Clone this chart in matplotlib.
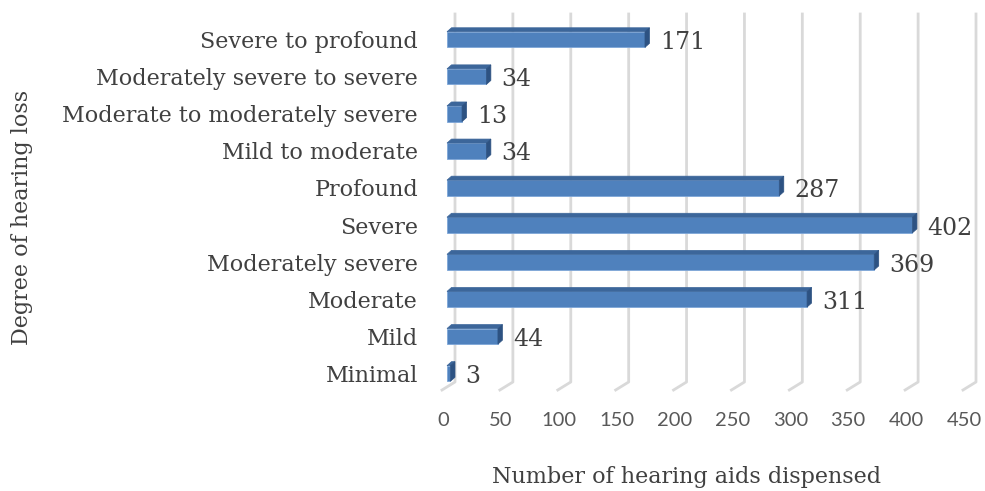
import matplotlib
matplotlib.use("Agg")
import matplotlib.pyplot as plt
from matplotlib.patches import Polygon
from matplotlib.lines import Line2D
from matplotlib.transforms import IdentityTransform

categories = ["Minimal", "Mild", "Moderate", "Moderately severe", "Severe",
              "Profound", "Mild to moderate", "Moderate to moderately severe",
              "Moderately severe to severe", "Severe to profound"]
values = [3, 44, 311, 369, 402, 287, 34, 13, 34, 171]
xticks = [0, 50, 100, 150, 200, 250, 300, 350, 400, 450]
xlabel = "Number of hearing aids dispensed"
ylabel = "Degree of hearing loss"

FRONT = "#4f81bd"
TOP = "#3c669a"
SIDE = "#2d5282"
EDGE = "#7ea6d8"
GRID = "#d9d9d9"
TXT = "#404040"
TICK = "#595959"
SERIF = "DejaVu Serif"
SANS = "Lato"

W, H = 985, 491
fig = plt.figure(figsize=(W / 100, H / 100), dpi=100)
left_px, right_px = 447, 968
top_px, bot_px = 21, 392
ax = fig.add_axes([left_px / W, (H - bot_px) / H, (right_px - left_px) / W, (bot_px - top_px) / H])
ax.set_xlim(0, 450)
ax.set_ylim(-0.5, len(categories) - 0.5)
ax.axis("off")

fig.canvas.draw()
tr = ax.transData


def px(x, y):
    a, b = tr.transform((x, y))
    return a, b  # display coords (origin bottom-left)


# gridlines (3D wall + floor)
y_top_disp = H - 14
y_back_bot = H - 382
y_front_bot = H - 390
for t in xticks:
    xb = px(t, 0)[0] + 8
    xf = px(t, 0)[0] - 5
    fig.add_artist(Line2D([xb, xb, xf], [y_top_disp, y_back_bot, y_front_bot],
                          color=GRID, lw=2, transform=IdentityTransform(), zorder=0))

# bars
bh = 0.42
dx, dy = 4.5, 4
for i, v in enumerate(values):
    ax.barh(i, v, height=bh, color=FRONT, edgecolor=EDGE, linewidth=0.6, zorder=3)
    x0, y0 = px(0, i - bh / 2)
    x1, y1 = px(v, i + bh / 2)
    top = Polygon([(x0, y1), (x1, y1), (x1 + dx, y1 + dy), (x0 + dx, y1 + dy)],
                  closed=True, facecolor=TOP, edgecolor=TOP, lw=0.5,
                  transform=IdentityTransform(), zorder=4)
    side = Polygon([(x1, y0), (x1, y1), (x1 + dx, y1 + dy), (x1 + dx, y0 + dy)],
                   closed=True, facecolor=SIDE, edgecolor=SIDE, lw=0.5,
                   transform=IdentityTransform(), zorder=4)
    fig.add_artist(top)
    fig.add_artist(side)
    ax.annotate(str(v), xy=(v, i), xytext=(15, -3), textcoords="offset pixels",
                ha="left", va="center", fontsize=17, family=SERIF, color=TXT)

# category labels
for i, c in enumerate(categories):
    ax.annotate(c, xy=(0, i), xytext=(-29, -2.5), textcoords="offset pixels",
                ha="right", va="center", fontsize=16, family=SERIF, color=TXT,
                annotation_clip=False)

# x tick labels
for t in xticks:
    x = px(t, 0)[0] - 4
    fig.text(x / W, (H - 420) / H, str(t), ha="center", va="center",
             fontsize=14.5, family=SANS, color=TICK)

fig.text((493 + 880) / 2 / W, (H - 477) / H, xlabel, ha="center", va="center",
         fontsize=16, family=SERIF, color=TXT)
fig.text(22 / W, (H - 217) / H, ylabel, ha="center", va="center", rotation=90,
         fontsize=16, family=SERIF, color=TXT)

fig.savefig("out.png", dpi=100)
